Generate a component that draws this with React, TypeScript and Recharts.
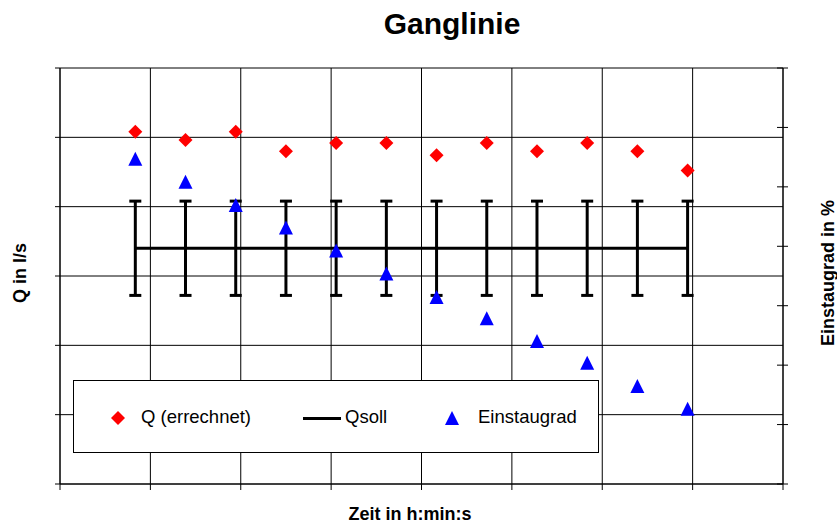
import React from "react"
import { ComposedChart, Line, Scatter, ErrorBar, XAxis, YAxis, CartesianGrid, Legend } from "recharts"

// Zeitpunkte in s (Achse ohne Beschriftung)
const zeit = [75, 125, 175, 225, 275, 325, 375, 425, 475, 525, 575, 625]
const qErrechnet = [25.4, 24.8, 25.4, 24.0, 24.6, 24.6, 23.7, 24.6, 24.0, 24.6, 24.0, 22.6]
const qSoll = [17, 17, 17, 17, 17, 17, 17, 17, 17, 17, 17, 17]
const qSollToleranz = [3.4, 3.4, 3.4, 3.4, 3.4, 3.4, 3.4, 3.4, 3.4, 3.4, 3.4, 3.4]
const einstaugrad = [109.5, 101.7, 93.9, 86.3, 78.6, 70.8, 62.9, 55.8, 48.1, 40.8, 33.0, 25.3]

const zeitTicks = [0, 90, 180, 270, 360, 450, 540, 630, 720]
const qTicks = [0, 5, 10, 15, 20, 25, 30]
const einstauTicks = [0, 20, 40, 60, 80, 100, 120, 140]

const legendItems = ["Q (errechnet)", "Qsoll", "Einstaugrad"]

const rows = zeit.map((t, i) => ({
  zeit: t,
  q: qErrechnet[i],
  qSoll: qSoll[i],
  toleranz: qSollToleranz[i],
  einstau: einstaugrad[i],
}))

const FONT = '"Liberation Sans", Arial, sans-serif'

const Diamond = (props: any) => {
  const { cx, cy } = props
  const r = 7
  return <path d={`M${cx},${cy - r}L${cx + r},${cy}L${cx},${cy + r}L${cx - r},${cy}Z`} fill="#ff0000" />
}

const Triangle = (props: any) => {
  const { cx, cy } = props
  const h = 7
  return <path d={`M${cx},${cy - h}L${cx + 7},${cy + h}L${cx - 7},${cy + h}Z`} fill="#0000ff" />
}

const noLabel = () => ""

function LegendBox() {
  const icon = (name: string) => {
    if (name === "Q (errechnet)")
      return (
        <svg width={14} height={14} style={{ position: "absolute", left: 37, top: 30 }}>
          <Diamond cx={7} cy={7} />
        </svg>
      )
    if (name === "Qsoll")
      return <div style={{ position: "absolute", left: 229, top: 36, width: 38, height: 3, background: "#000" }} />
    return (
      <svg width={14} height={14} style={{ position: "absolute", left: 371, top: 30 }}>
        <Triangle cx={7} cy={7} />
      </svg>
    )
  }
  const textLeft: Record<string, number> = { "Q (errechnet)": 67, Qsoll: 271, Einstaugrad: 404 }
  return (
    <div
      style={{
        position: "relative",
        width: 524,
        height: 71,
        border: "1px solid #000",
        background: "#fff",
        fontFamily: FONT,
        fontSize: 18.5,
      }}
    >
      {legendItems.map((name) => (
        <React.Fragment key={name}>
          {icon(name)}
          <span style={{ position: "absolute", left: textLeft[name], top: 25, lineHeight: "21px", whiteSpace: "nowrap" }}>
            {name}
          </span>
        </React.Fragment>
      ))}
    </div>
  )
}

const RightTick = (props: any) => {
  const { x, y } = props
  return <line x1={x - 6} x2={x + 5} y1={y} y2={y} stroke="#000" strokeWidth={1} />
}

export default function App() {
  return (
    <div style={{ position: "absolute", left: 0, top: 0, width: 837, height: 525, background: "#fff" }}>
      <ComposedChart width={837} height={525} data={rows} margin={{ top: 68, right: 34, bottom: 20, left: 40 }}>
        <CartesianGrid yAxisId="left" stroke="#000" strokeWidth={1} />
        <XAxis
          type="number"
          dataKey="zeit"
          domain={[0, 720]}
          ticks={zeitTicks}
          tickFormatter={noLabel}
          tickSize={6}
          height={21}
          stroke="#000"
          axisLine={{ stroke: "#000" }}
          tickLine={{ stroke: "#000" }}
        />
        <YAxis
          yAxisId="left"
          domain={[0, 30]}
          ticks={qTicks}
          tickFormatter={noLabel}
          tickSize={5}
          width={20}
          axisLine={{ stroke: "#000" }}
          tickLine={{ stroke: "#000" }}
        />
        <YAxis
          yAxisId="right"
          orientation="right"
          domain={[0, 140]}
          ticks={einstauTicks}
          tickLine={false}
          tickSize={0}
          tickMargin={0}
          tick={RightTick}
          width={20}
          axisLine={{ stroke: "#000" }}
        />
        <Legend
          layout="horizontal"
          verticalAlign="middle"
          align="center"
          wrapperStyle={{ left: 73, top: 380, width: 526, height: 73 }}
          content={() => <LegendBox />}
        />
        <Line
          yAxisId="left"
          dataKey="qSoll"
          name="Qsoll"
          stroke="#000"
          strokeWidth={3}
          dot={false}
          isAnimationActive={false}
        >
          <ErrorBar dataKey="toleranz" width={6} strokeWidth={3} stroke="#000" direction="y" />
        </Line>
        <Scatter
          yAxisId="left"
          dataKey="q"
          name="Q (errechnet)"
          fill="#ff0000"
          shape={Diamond}
          isAnimationActive={false}
        />
        <Scatter
          yAxisId="right"
          dataKey="einstau"
          name="Einstaugrad"
          fill="#0000ff"
          shape={Triangle}
          isAnimationActive={false}
        />
      </ComposedChart>
      <svg
        width={837}
        height={525}
        style={{ position: "absolute", left: 0, top: 0, pointerEvents: "none" }}
        fontFamily={FONT}
        fontWeight="bold"
      >
        <text x={452} y={33.5} textAnchor="middle" fontSize={30}>
          Ganglinie
        </text>
        <text x={410} y={520} textAnchor="middle" fontSize={18}>
          Zeit in h:min:s
        </text>
        <text x={26} y={273} textAnchor="middle" fontSize={18} transform="rotate(-90 26 273)">
          Q in l/s
        </text>
        <text x={834} y={273} textAnchor="middle" fontSize={18} transform="rotate(-90 834 273)">
          Einstaugrad in %
        </text>
      </svg>
    </div>
  )
}
